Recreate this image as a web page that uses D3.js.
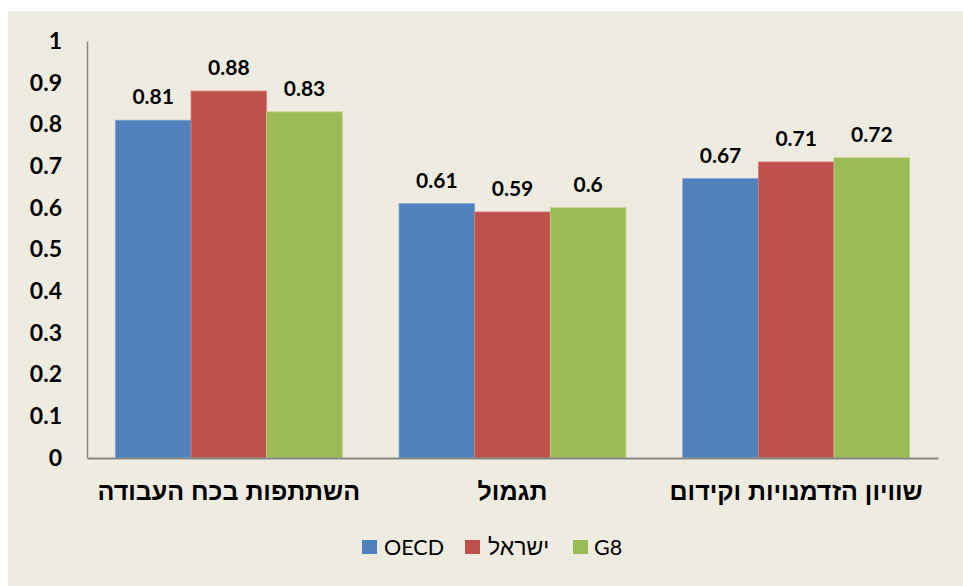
<!DOCTYPE html>
<html>
<head>
<meta charset="utf-8">
<script src="https://cdn.jsdelivr.net/npm/d3@7"></script>
<style>
  html, body { margin: 0; padding: 0; background: #fff; }
  svg { display: block; }
</style>
</head>
<body>
<svg id="chart"></svg>
<script>
const categories = ["השתתפות בכח העבודה", "תגמול", "שוויון הזדמנויות וקידום"];
const seriesNames = ["OECD", "ישראל", "G8"];
const oecd = [0.81, 0.61, 0.67];
const israel = [0.88, 0.59, 0.71];
const g8 = [0.83, 0.6, 0.72];
const yTicks = [0, 0.1, 0.2, 0.3, 0.4, 0.5, 0.6, 0.7, 0.8, 0.9, 1];

const colors = ["#4f81bd", "#c0504d", "#9bbb59"];
const edges = ["#7fa3d2", "#d47d7b", "#b9d183"];
const seriesValues = [oecd, israel, g8];

const width = 963, height = 586;
const margin = { left: 87, right: 25, top: 41, bottom: 128 };
const numFont = "Lato, 'Open Sans', sans-serif";
const hebFont = "'Liberation Sans', 'DejaVu Sans', sans-serif";

const svg = d3.select("#chart").attr("width", width).attr("height", height);

svg.append("rect")
  .attr("x", 8).attr("y", 11)
  .attr("width", width - 8).attr("height", height - 11)
  .attr("fill", "#eeece1");

const x = d3.scaleBand()
  .domain(categories)
  .range([margin.left, width - margin.right])
  .paddingInner(0.2)
  .paddingOuter(0.1);

const xs = d3.scaleBand()
  .domain(seriesNames)
  .range([0, x.bandwidth()]);

const y = d3.scaleLinear()
  .domain([0, 1])
  .range([height - margin.bottom, margin.top]);

// bars
const groups = svg.append("g").selectAll("g")
  .data(categories)
  .join("g")
  .attr("transform", d => `translate(${x(d)},0)`);

groups.selectAll("rect")
  .data((c, ci) => seriesNames.map((s, si) => ({ s, si, v: seriesValues[si][ci] })))
  .join("rect")
  .attr("x", d => xs(d.s))
  .attr("y", d => y(d.v))
  .attr("width", xs.bandwidth())
  .attr("height", d => y(0) - y(d.v))
  .attr("fill", d => colors[d.si])
  .attr("stroke", d => edges[d.si])
  .attr("stroke-width", 0.8);

groups.selectAll("text")
  .data((c, ci) => seriesNames.map((s, si) => ({ s, si, v: seriesValues[si][ci] })))
  .join("text")
  .attr("x", d => xs(d.s) + xs.bandwidth() / 2)
  .attr("y", d => y(d.v) - 16)
  .attr("text-anchor", "middle")
  .attr("font-family", numFont)
  .attr("font-weight", "bold")
  .attr("font-size", 21)
  .attr("fill", "#000")
  .text(d => d3.format("")(d.v));

// y axis
const yAxis = svg.append("g")
  .attr("transform", `translate(${margin.left},0)`)
  .call(d3.axisLeft(y).tickValues(yTicks).tickSize(0).tickPadding(25).tickFormat(d3.format("")));
yAxis.select(".domain").attr("stroke", "#868686").attr("stroke-width", 1.5);
yAxis.selectAll("text")
  .attr("font-family", numFont)
  .attr("font-weight", "bold")
  .attr("font-size", 23)
  .attr("fill", "#000");

// x axis
const xAxis = svg.append("g")
  .attr("transform", `translate(0,${y(0)})`)
  .call(d3.axisBottom(x).tickSize(0).tickPadding(24));
xAxis.select(".domain").attr("stroke", "#868686").attr("stroke-width", 2);
xAxis.selectAll("text")
  .attr("font-family", hebFont)
  .attr("font-weight", "bold")
  .attr("font-size", 25)
  .attr("fill", "#000");

// legend
const legendItems = [
  { name: seriesNames[0], sx: 362, tx: 384, size: 21.5 },
  { name: seriesNames[1], sx: 465, tx: 488, size: 23 },
  { name: seriesNames[2], sx: 573, tx: 594, size: 21.5 }
];
const legend = svg.append("g");
legendItems.forEach((it, i) => {
  legend.append("rect")
    .attr("x", it.sx).attr("y", 540)
    .attr("width", 15).attr("height", 14)
    .attr("fill", colors[i]);
  legend.append("text")
    .attr("x", it.tx).attr("y", 555)
    .attr("font-family", i === 1 ? hebFont : numFont)
    .attr("font-size", it.size)
    .attr("fill", "#000")
    .text(it.name);
});
</script>
</body>
</html>
